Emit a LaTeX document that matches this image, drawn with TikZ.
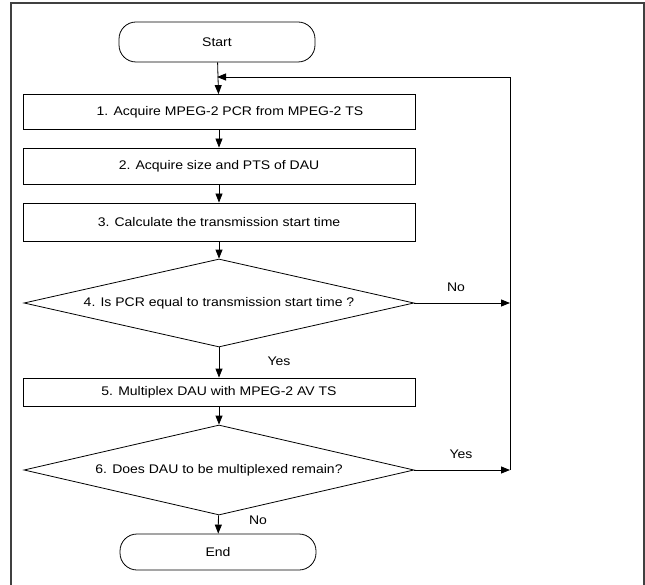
\documentclass[tikz,border=0pt]{standalone}
\usepackage{fontspec}
\setmainfont[FakeStretch=1.12]{Liberation Sans}
\usetikzlibrary{shapes.geometric,arrows.meta}

\tikzset{
  stepbox/.style={draw, thick, minimum width=392pt, inner sep=0pt},
  termbox/.style={draw, thick, rounded corners=17pt, minimum width=196pt, inner sep=0pt},
  testbox/.style={draw, thick, diamond, aspect=4.4, minimum width=390pt, inner sep=0pt},
  flow/.style={thick, -{Triangle[length=9pt,width=7pt]}},
}

\begin{document}
\begin{tikzpicture}[x=1pt, y=-1pt, font=\fontsize{12.5}{14}\selectfont]

\useasboundingbox (0,0) rectangle (645,585) ;
\draw [line width=1.3pt, black!75] (11,590) -- (11,3) -- (644,3) -- (644,590) ;

\node [termbox, minimum height=40pt] (start) at (217,42) {Start} ;
\node [stepbox, minimum height=35pt] (s1) at (219,112) {\hspace*{22pt}1. Acquire MPEG-2 PCR from MPEG-2 TS} ;
\node [stepbox, minimum height=36pt] (s2) at (219,166) {2. Acquire size and PTS of DAU} ;
\node [stepbox, minimum height=38pt] (s3) at (219,222) {3. Calculate the transmission start time} ;
\node [testbox, minimum height=88pt] (q4) at (219,303) {4. Is PCR equal to transmission start time ?} ;
\node [stepbox, minimum height=28pt] (s5) at (219,392) {5. Multiplex DAU with MPEG-2 AV TS} ;
\node [testbox, minimum height=90pt] (q6) at (219,470) {6. Does DAU to be multiplexed remain?} ;
\node [termbox, minimum height=36pt] (end) at (218,552) {End} ;

\coordinate (r4) at (510,303) ;
\coordinate (r6) at (510,470) ;
\coordinate (rtop) at (510,77) ;
\coordinate (join) at (start.south |- rtop) ;

\draw [flow] (start) -- (s1) ;
\draw [flow] (s1) -- (s2) ;
\draw [flow] (s2) -- (s3) ;
\draw [flow] (s3) -- (q4) ;
\draw [flow] (q4) -- (s5) ;
\draw [flow] (s5) -- (q6) ;
\draw [flow] (q6) -- (end) ;

\draw [flow] (q4.east) -- (r4) ;
\draw [flow] (q6.east) -- (r6) ;
\draw [flow] (r6) -- (rtop) -- (join) ;

\node (no4) at (456,287) {No} ;
\node (yes4) at (279,361) {Yes} ;
\node (yes6) at (461,454) {Yes} ;
\node (no6) at (258,520) {No} ;

\end{tikzpicture}
\end{document}
